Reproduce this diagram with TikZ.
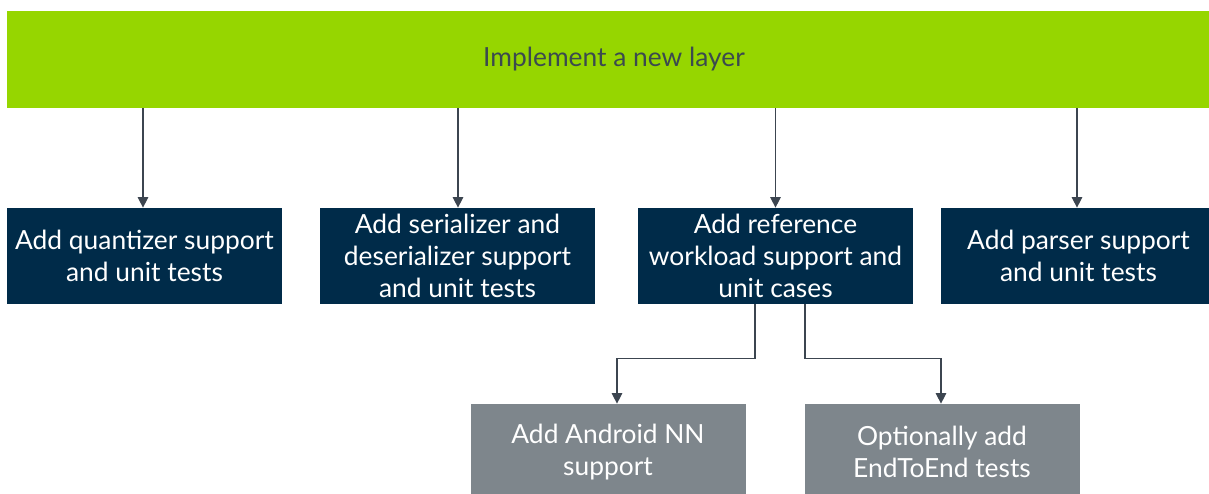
\documentclass[tikz,border=0pt]{standalone}
\usepackage{fontspec}
\setmainfont{Lato}
\usepackage{tikz}
\usetikzlibrary{arrows.meta}

\definecolor{layergreen}{HTML}{96D600}
\definecolor{taskblue}{HTML}{002B49}
\definecolor{taskgrey}{HTML}{7E868C}
\definecolor{linkgrey}{HTML}{3C4550}
\definecolor{titlegrey}{HTML}{3B4A4F}

\tikzset{
  layerbar/.style={fill=layergreen, minimum width=24.28cm, minimum height=1.94cm,
    inner sep=0pt, text=titlegrey, font=\fontsize{15pt}{18pt}\selectfont},
  taskbox/.style={fill=taskblue, minimum width=5.5cm, minimum height=1.92cm,
    inner sep=0pt, text=white, align=center, font=\fontsize{15pt}{18pt}\selectfont},
  subbox/.style={taskbox, fill=taskgrey},
  link/.style={draw=linkgrey, line width=0.7pt, -{Triangle[length=6pt,width=6pt]}}
}

\begin{document}
\begin{tikzpicture}
\useasboundingbox (0,0) rectangle (24.18,-9.88);
% top bar
\node[layerbar] (layer) at (12.28,-1.19) {Implement a new layer};
% first row
\node[taskbox] (quant) at (2.89,-5.12) {Add quantizer support\\and unit tests};
\node[taskbox] (serial) at (9.15,-5.12) {Add serializer and\\deserializer support\\and unit tests};
\node[taskbox] (ref) at (15.51,-5.12) {Add reference\\workload support and\\unit cases};
\node[taskbox] (parser) at (21.57,-5.12) {Add parser support\\and unit tests};
% second row
\node[subbox] (android) at (12.16,-9.04) {Add Android NN\\support};
\node[subbox] (endtoend) at (18.84,-9.04) {Optionally add\\EndToEnd tests};
% arrows from the bar
\coordinate (quantin) at ([xshift=-0.03cm]quant.north);
\coordinate (serialin) at ([xshift=0.01cm]serial.north);
\coordinate (parserin) at ([xshift=-0.03cm]parser.north);
\draw[link] (layer.south -| quantin) -- (quantin);
\draw[link] (layer.south -| serialin) -- (serialin);
\draw[link] (layer.south -| ref.north) -- (ref.north);
\draw[link] (layer.south -| parserin) -- (parserin);
% branches below the reference box
\coordinate (refl) at ([xshift=-0.41cm]ref.south);
\coordinate (refr) at ([xshift=0.59cm]ref.south);
\coordinate (bend) at ([yshift=-1.08cm]ref.south);
\coordinate (andin) at ([xshift=0.18cm]android.north);
\coordinate (e2ein) at ([xshift=-0.02cm]endtoend.north);
\draw[link] (refl) -- (refl |- bend) -| (andin);
\draw[link] (refr) -- (refr |- bend) -| (e2ein);
\end{tikzpicture}
\end{document}
